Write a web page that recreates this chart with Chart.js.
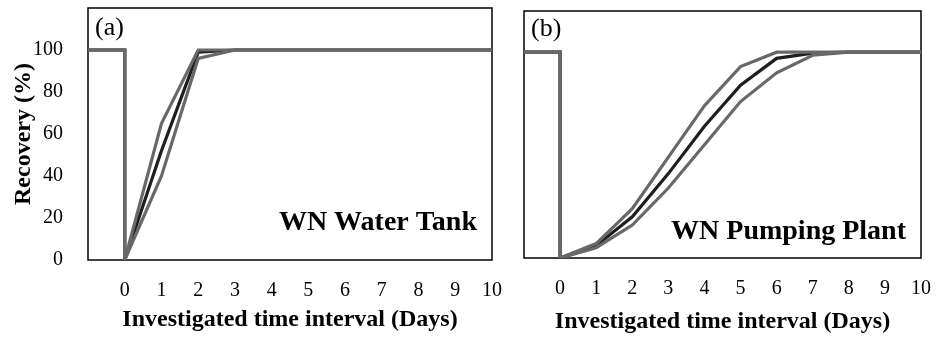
<!DOCTYPE html>
<html lang="en">
<head>
<meta charset="UTF-8">
<title>Recovery after disturbance</title>
<script src="https://cdn.jsdelivr.net/npm/chart.js"></script>
<style>
  html, body { margin: 0; padding: 0; background: #fff; }
  .wrap { position: relative; width: 937px; height: 337px; }
  .panel { position: absolute; top: 0; }
  #panelA { left: 0; }
  #panelB { left: 505px; }
</style>
</head>
<body>
<div class="wrap">
  <div class="panel" id="panelA"><canvas id="chartA" width="505" height="337"></canvas></div>
  <div class="panel" id="panelB"><canvas id="chartB" width="432" height="337"></canvas></div>
</div>

<script>
// x positions (days); the repeated 0 makes the drop from 100 to 0
const days = [-1, 0, 0, 1, 2, 3, 4, 5, 6, 7, 8, 9, 10];

// (a) WN Water Tank
const tankUpper = [100, 100, 0, 65, 100, 100, 100, 100, 100, 100, 100, 100, 100];
const tankMean  = [100, 100, 0, 52, 99, 100, 100, 100, 100, 100, 100, 100, 100];
const tankLower = [100, 100, 0, 40, 96, 100, 100, 100, 100, 100, 100, 100, 100];

// (b) WN Pumping Plant
const plantUpper = [100, 100, 0, 7, 24, 49, 74, 93, 100, 100, 100, 100, 100];
const plantMean  = [100, 100, 0, 6, 20, 41, 64, 84, 97, 99.5, 100, 100, 100];
const plantLower = [100, 100, 0, 5, 16, 34, 55, 76, 90, 98.5, 100, 100, 100];

const yTicks = [0, 20, 40, 60, 80, 100];

const GRAY = '#686868';
const BLACK = '#1e1e1e';
const SERIF = '"Liberation Serif", "Times New Roman", serif';

function pts(ys) {
    return ys.map((y, i) => ({ x: days[i], y: y }));
}

function lineSet(ys, color) {
    return {
        data: pts(ys),
        borderColor: color,
        borderWidth: 3.2,
        pointRadius: 0,
        tension: 0,
        fill: false
    };
}

// frame around the plot area plus the panel letter and site name
const framePlugin = {
    id: 'frame',
    beforeDatasetsDraw(chart, args, opts) {
        const a = chart.chartArea;
        const ctx = chart.ctx;
        ctx.save();
        ctx.strokeStyle = '#000';
        ctx.lineWidth = 1.5;
        ctx.strokeRect(a.left, a.top, a.right - a.left, a.bottom - a.top);
        ctx.restore();
    },
    afterDatasetsDraw(chart, args, opts) {
        const a = chart.chartArea;
        const ctx = chart.ctx;
        ctx.save();
        ctx.fillStyle = '#000';
        ctx.textBaseline = 'alphabetic';
        ctx.font = '26px ' + SERIF;
        ctx.textAlign = 'left';
        ctx.fillText(opts.letter, a.left + 7, a.top + opts.letterDrop);
        ctx.font = 'bold 28px ' + SERIF;
        ctx.textAlign = 'right';
        ctx.fillText(opts.site, a.right - 15, a.bottom - opts.siteLift);
        ctx.restore();
    }
};

// no extra room for tick labels at the ends, the plot box is fixed
function noEdgePadding(s) {
    s.paddingLeft = 0;
    s.paddingRight = 0;
    s.paddingTop = 0;
    s.paddingBottom = 0;
}

function xScale(height, titlePad) {
    return {
        type: 'linear',
        min: -1,
        max: 10,
        grid: { display: false, drawTicks: false },
        border: { display: false },
        ticks: {
            stepSize: 1,
            padding: 19,
            color: '#000',
            font: { family: SERIF, size: 20 },
            callback: v => (v >= 0 ? String(v) : '')
        },
        title: {
            display: true,
            text: 'Investigated time interval (Days)',
            color: '#000',
            font: { family: SERIF, size: 24, weight: 'bold' },
            padding: { top: 0, bottom: titlePad }
        },
        afterFit: s => { s.height = height; noEdgePadding(s); }
    };
}

new Chart(document.getElementById('chartA'), {
    type: 'scatter',
    data: {
        datasets: [
            lineSet(tankUpper, GRAY),
            lineSet(tankLower, GRAY),
            lineSet(tankMean, BLACK)
        ]
    },
    options: {
        responsive: false,
        animation: false,
        showLine: true,
        layout: { padding: { left: 0, right: 13, top: 8, bottom: 0 } },
        plugins: {
            legend: { display: false },
            tooltip: { enabled: false },
            frame: { letter: '(a)', letterDrop: 27, site: 'WN Water Tank', siteLift: 30 }
        },
        scales: {
            x: xScale(77, 3),
            y: {
                min: 0,
                max: 120,
                grid: { display: false, drawTicks: false },
                border: { display: false },
                afterBuildTicks: s => { s.ticks = yTicks.map(v => ({ value: v })); },
                ticks: {
                    padding: 25,
                    color: '#000',
                    font: { family: SERIF, size: 20 }
                },
                title: {
                    display: true,
                    text: 'Recovery (%)',
                    color: '#000',
                    font: { family: SERIF, size: 24, weight: 'bold' },
                    padding: { top: 9, bottom: 0 }
                },
                afterFit: s => { s.width = 88; noEdgePadding(s); }
            }
        }
    },
    plugins: [framePlugin]
});

new Chart(document.getElementById('chartB'), {
    type: 'scatter',
    data: {
        datasets: [
            lineSet(plantUpper, GRAY),
            lineSet(plantLower, GRAY),
            lineSet(plantMean, BLACK)
        ]
    },
    options: {
        responsive: false,
        animation: false,
        showLine: true,
        layout: { padding: { left: 19, right: 16, top: 11, bottom: 0 } },
        plugins: {
            legend: { display: false },
            tooltip: { enabled: false },
            frame: { letter: '(b)', letterDrop: 25, site: 'WN Pumping Plant', siteLift: 19 }
        },
        scales: {
            x: xScale(79, 1),
            y: {
                display: false,
                min: 0,
                max: 120
            }
        }
    },
    plugins: [framePlugin]
});
</script>
</body>
</html>
